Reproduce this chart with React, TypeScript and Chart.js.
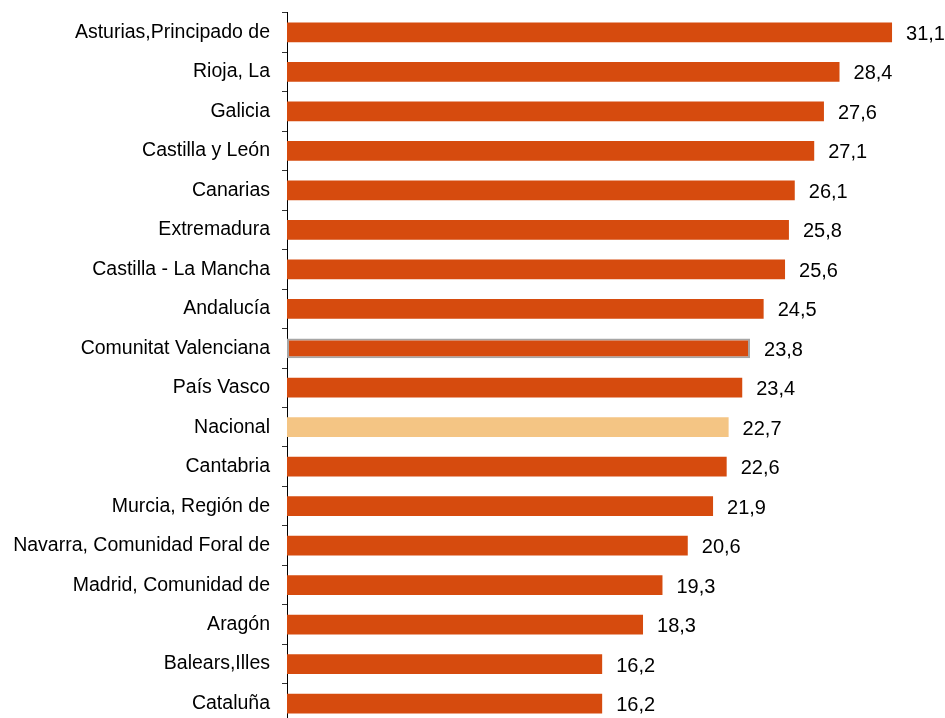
import React, { useEffect, useRef } from "react";
import { Chart, registerables } from "chart.js";

Chart.register(...registerables);

const categories = [
  "Asturias,Principado de",
  "Rioja, La",
  "Galicia",
  "Castilla y León",
  "Canarias",
  "Extremadura",
  "Castilla - La Mancha",
  "Andalucía",
  "Comunitat Valenciana",
  "País Vasco",
  "Nacional",
  "Cantabria",
  "Murcia, Región de",
  "Navarra, Comunidad Foral de",
  "Madrid, Comunidad de",
  "Aragón",
  "Balears,Illes",
  "Cataluña",
];

const values = [31.1, 28.4, 27.6, 27.1, 26.1, 25.8, 25.6, 24.5, 23.8, 23.4, 22.7, 22.6, 21.9, 20.6, 19.3, 18.3, 16.2, 16.2];

const ORANGE = "#D64B0E";
const NATIONAL = "#F4C584";
const FONT = '"Liberation Sans", Arial, sans-serif';

const valueLabels = {
  id: "valueLabels",
  afterDatasetsDraw(chart: any) {
    const ctx = chart.ctx;
    const meta = chart.getDatasetMeta(0);
    ctx.save();
    ctx.font = `20px ${FONT}`;
    ctx.fillStyle = "#000";
    ctx.textAlign = "left";
    ctx.textBaseline = "middle";
    meta.data.forEach((bar: any, i: number) => {
      const txt = values[i].toFixed(1).replace(".", ",");
      ctx.fillText(txt, bar.x + 14, bar.y + 2);
    });
    ctx.restore();
  },
};

export default function App() {
  const ref = useRef<HTMLCanvasElement | null>(null);
  useEffect(() => {
    if (!ref.current) return;
    const bg = categories.map((c) => (c === "Nacional" ? NATIONAL : ORANGE));
    const bc = categories.map((c) => (c === "Comunitat Valenciana" ? "#A6A6A6" : "rgba(0,0,0,0)"));
    const bw = categories.map((c) => (c === "Comunitat Valenciana" ? 2 : 0));
    const chart = new Chart(ref.current, {
      type: "bar",
      data: {
        labels: categories,
        datasets: [
          {
            data: values,
            backgroundColor: bg,
            borderColor: bc,
            borderWidth: bw,
            borderSkipped: false,
            barPercentage: 0.5,
            categoryPercentage: 1,
          },
        ],
      },
      options: {
        indexAxis: "y",
        animation: false,
        responsive: false,
        maintainAspectRatio: false,
        layout: { padding: { top: 0, right: 16, left: 0, bottom: 0 } },
        plugins: {
          legend: { display: false },
          tooltip: { enabled: false },
          title: { display: false },
        },
        scales: {
          x: {
            display: false,
            min: 0,
            max: 33,
          },
          y: {
            afterFit: (s: any) => {
              s.width = 287;
            },
            border: { display: true, color: "#000", width: 1 },
            grid: {
              offset: true,
              drawOnChartArea: false,
              drawTicks: true,
              tickLength: 5,
              color: "#333",
            },
            ticks: {
              padding: 12,
              color: "#000",
              font: { family: FONT, size: 19.5 },
            },
          },
        },
      },
      plugins: [valueLabels],
    });
    return () => chart.destroy();
  }, []);
  return (
    <div style={{ position: "absolute", left: 0, top: -11, width: 945, height: 758 }}>
      <canvas ref={ref} width={945} height={758} style={{ width: 945, height: 758 }} />
    </div>
  );
}
